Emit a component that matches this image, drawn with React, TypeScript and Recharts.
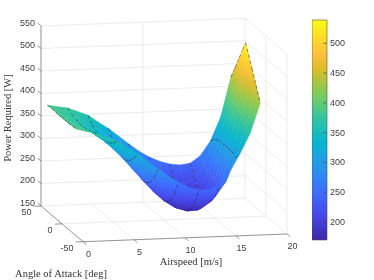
import { Bar, BarChart, Scatter, ScatterChart, XAxis, YAxis } from "recharts";

// surface samples: airspeed [m/s] by angle of attack [deg]
const airspeeds = [0, 2, 4, 5, 6, 7, 8, 9, 10, 11, 12, 13, 14, 15, 16, 17, 18];
const powerBack35 = [386, 378, 360, 344, 329, 311, 293, 276, 262, 252, 245, 242, 245, 261, 293, 345, 433];
const power25 = [387, 372, 346, 329, 310, 287, 265, 245, 228, 215, 208, 208, 219, 250, 304, 370, 462];
const power15 = [386, 368, 338, 319, 297, 272, 247, 225, 205, 191, 184, 185, 200, 241, 310, 386, 492];
const power7 = [386, 366, 334, 314, 292, 266, 240, 216, 196, 181, 174, 175, 194, 236, 309, 399, 516];
const power0 = [386, 365, 333, 313, 290, 264, 238, 213, 193, 178, 171, 174, 192, 235, 310, 405, 537];
const powerFront35 = [388, 376, 357, 342, 329, 310, 293, 276, 262, 249, 243, 243, 252, 280, 320, 364, 431];

const aoaRows = [35, 25, 15, 7, 0, -7, -15, -25, -35];
const powerRows = [powerBack35, power25, power15, power7, power0, power7, power15, power25, powerFront35];
const dashedAirspeeds = [0, 2, 4, 6, 8, 10, 12, 14, 16, 18];

const powerTicks = [150, 200, 250, 300, 350, 400, 450, 500, 550];
const airspeedTicks = [0, 5, 10, 15, 20];
const aoaTicks = [-50, 0, 50];
const colorbarTicks = [200, 250, 300, 350, 400, 450, 500];
const colorMin = 170;
const colorMax = 539;

// parula
const parula: [number, number[]][] = [
  [0, [62, 38, 168]],
  [7 / 63, [71, 71, 235]],
  [14 / 63, [62, 111, 255]],
  [21 / 63, [39, 150, 235]],
  [28 / 63, [8, 181, 208]],
  [35 / 63, [49, 198, 159]],
  [42 / 63, [129, 204, 89]],
  [49 / 63, [220, 189, 41]],
  [53 / 63, [254, 190, 60]],
  [56 / 63, [252, 207, 48]],
  [1, [249, 251, 21]],
];

const colorAt = (power: number) => {
  const t = Math.min(1, Math.max(0, (power - colorMin) / (colorMax - colorMin)));
  let i = 0;
  while (i < parula.length - 2 && t > parula[i + 1][0]) i++;
  const [t0, c0] = parula[i];
  const [t1, c1] = parula[i + 1];
  const f = (t - t0) / (t1 - t0);
  return `rgb(${c0.map((c, k) => Math.round(c + (c1[k] - c) * f)).join(",")})`;
};

// fixed 3D view of the axes box
const project = (v: number, a: number, p: number) => ({
  x: 62 + 10.2 * v - 0.42 * a,
  y: 223.85 - 0.385 * v - 0.357 * a - 0.45 * (p - 150),
});

const buildFacets = () => {
  const facets: any[] = [];
  // far to near so the front of the valley covers the back
  for (let r = 0; r < aoaRows.length - 1; r++) {
    for (let c = airspeeds.length - 2; c >= 0; c--) {
      const corners = [
        [airspeeds[c], aoaRows[r], powerRows[r][c]],
        [airspeeds[c + 1], aoaRows[r], powerRows[r][c + 1]],
        [airspeeds[c + 1], aoaRows[r + 1], powerRows[r + 1][c + 1]],
        [airspeeds[c], aoaRows[r + 1], powerRows[r + 1][c]],
      ];
      const pts = corners.map((k) => project(k[0], k[1], k[2]));
      facets.push({
        id: `f${r}-${c}`,
        x: pts[0].x,
        y: pts[0].y,
        offsets: pts.map((p) => [p.x - pts[0].x, p.y - pts[0].y]),
        powers: corners.map((k) => k[2]),
        dashRight: dashedAirspeeds.includes(airspeeds[c + 1]),
        dashLeft: c === 0,
      });
    }
  }
  return facets;
};

const Facet = (props: any) => {
  const { cx, cy, payload: f } = props;
  const pts = f.offsets.map((o: number[]) => [cx + o[0], cy + o[1]]);
  const z = f.powers;
  const d = pts.map((p: number[], i: number) => `${i ? "L" : "M"}${p[0]} ${p[1]}`).join(" ") + " Z";

  // colour follows height: gradient along the facet's height slope
  const ax = pts[2][0] - pts[0][0];
  const ay = pts[2][1] - pts[0][1];
  const bx = pts[3][0] - pts[1][0];
  const by = pts[3][1] - pts[1][1];
  const dz1 = z[2] - z[0];
  const dz2 = z[3] - z[1];
  const det = ax * by - ay * bx;
  const zMin = Math.min(...z);
  const zMax = Math.max(...z);
  const zMid = (z[0] + z[1] + z[2] + z[3]) / 4;
  let fill = colorAt(zMid);
  let defs = null;
  if (Math.abs(det) > 0.5 && zMax - zMin > 1) {
    const gx = (dz1 * by - dz2 * ay) / det;
    const gy = (ax * dz2 - bx * dz1) / det;
    const g2 = gx * gx + gy * gy;
    const mx = (pts[0][0] + pts[1][0] + pts[2][0] + pts[3][0]) / 4;
    const my = (pts[0][1] + pts[1][1] + pts[2][1] + pts[3][1]) / 4;
    const at = (v: number) => [mx + ((v - zMid) * gx) / g2, my + ((v - zMid) * gy) / g2];
    const p0 = at(zMin);
    const p1 = at(zMax);
    defs = (
      <defs>
        <linearGradient id={f.id} gradientUnits="userSpaceOnUse" x1={p0[0]} y1={p0[1]} x2={p1[0]} y2={p1[1]}>
          {[0, 0.25, 0.5, 0.75, 1].map((s) => (
            <stop key={s} offset={s} stopColor={colorAt(zMin + (zMax - zMin) * s)} />
          ))}
        </linearGradient>
      </defs>
    );
    fill = `url(#${f.id})`;
  }
  const dash = { stroke: "#222222", strokeWidth: 0.5, strokeDasharray: "3.5 2.5", fill: "none" };
  return (
    <g>
      {defs}
      <path d={d} fill={fill} stroke={fill} strokeWidth={0.5} />
      {f.dashRight && <line x1={pts[1][0]} y1={pts[1][1]} x2={pts[2][0]} y2={pts[2][1]} {...dash} />}
      {f.dashLeft && <line x1={pts[0][0]} y1={pts[0][1]} x2={pts[3][0]} y2={pts[3][1]} {...dash} />}
    </g>
  );
};

const segment = (from: number[], to: number[], color: string) => {
  const p = project(from[0], from[1], from[2]);
  const q = project(to[0], to[1], to[2]);
  return { x: p.x, y: p.y, dx: q.x - p.x, dy: q.y - p.y, color };
};

const gridColor = "#e4e4e4";
const axisColor = "#666666";

const gridSegments = [
  ...powerTicks.flatMap((p) => [
    segment([0, 50, p], [20, 50, p], gridColor),
    segment([20, 50, p], [20, -50, p], gridColor),
  ]),
  ...[5, 10, 15].map((v) => segment([v, 50, 150], [v, -50, 150], gridColor)),
  segment([0, 0, 150], [20, 0, 150], gridColor),
  segment([10, 50, 150], [10, 50, 550], gridColor),
  segment([20, 50, 150], [20, 50, 550], gridColor),
  segment([20, 0, 150], [20, 0, 550], gridColor),
  segment([20, -50, 150], [20, -50, 550], gridColor),
];

const axisSegments = [
  segment([0, 50, 150], [0, 50, 550], axisColor),
  segment([0, 50, 150], [0, -50, 150], axisColor),
  segment([0, -50, 150], [20, -50, 150], axisColor),
  ...powerTicks.map((p) => segment([0, 50, p], [0, 58, p], axisColor)),
  ...aoaTicks.map((a) => segment([0, a, 150], [-0.7, a, 150], axisColor)),
  ...airspeedTicks.map((v) => segment([v, -50, 150], [v, -58, 150], axisColor)),
];

const Segment = (props: any) => {
  const { cx, cy, payload: s } = props;
  return <line x1={cx} y1={cy} x2={cx + s.dx} y2={cy + s.dy} stroke={s.color} strokeWidth={0.7} />;
};

const tickFont = "'Liberation Sans', Arial, sans-serif";
const titleFont = "'Liberation Serif', serif";

const labels = [
  ...powerTicks.map((p) => {
    const t = project(0, 50, p);
    return { x: t.x - 6, y: t.y - 0.5, text: String(p), anchor: "end" };
  }),
  ...aoaTicks.map((a) => {
    const t = project(0, a, 150);
    return { x: t.x - 9.5, y: t.y + 9, text: String(a), anchor: "end" };
  }),
  ...airspeedTicks.map((v) => {
    const t = project(v, -50, 150);
    return { x: t.x + 5.5, y: t.y + 15, text: String(v), anchor: "middle" };
  }),
];

const titles = [
  { x: 11, y: 118, text: "Power Required [W]", rotate: -90 },
  { x: 191, y: 265, text: "Airspeed [m/s]", rotate: 0 },
  { x: 61, y: 277, text: "Angle of Attack [deg]", rotate: 0 },
];

const TickLabel = (props: any) => {
  const { cx, cy, payload: l } = props;
  return (
    <text x={cx} y={cy} textAnchor={l.anchor} fontFamily={tickFont} fontSize={9} fill="#404040">
      {l.text}
    </text>
  );
};

const TitleLabel = (props: any) => {
  const { cx, cy, payload: l } = props;
  return (
    <text
      x={cx}
      y={cy}
      textAnchor="middle"
      fontFamily={titleFont}
      fontSize={10.5}
      fill="#333333"
      transform={l.rotate ? `rotate(${l.rotate} ${cx} ${cy})` : undefined}
    >
      {l.text}
    </text>
  );
};

const ColorbarTick = (props: any) => {
  const { y, payload } = props;
  return (
    <g>
      <line x1={11.5} x2={14.5} y1={y} y2={y} stroke="#404040" strokeWidth={0.7} />
      <text x={18} y={y + 3} fontFamily={tickFont} fontSize={9} fill="#404040">
        {payload.value}
      </text>
    </g>
  );
};

const colorbarData = [{ name: "power", range: [colorMin, colorMax] }];

export default function App() {
  const facets = buildFacets();
  return (
    <div style={{ position: "absolute", left: 0, top: 0, width: 374, height: 280, background: "#fff", filter: "blur(0.3px)" }}>
      <ScatterChart width={374} height={280} margin={{ top: 0, right: 0, bottom: 0, left: 0 }}>
        <XAxis type="number" dataKey="x" domain={[0, 374]} hide />
        <YAxis type="number" dataKey="y" domain={[0, 280]} reversed hide />
        <Scatter data={gridSegments} shape={Segment} isAnimationActive={false} />
        <Scatter data={axisSegments} shape={Segment} isAnimationActive={false} />
        <Scatter data={facets} shape={Facet} isAnimationActive={false} />
        <Scatter data={labels} shape={TickLabel} isAnimationActive={false} />
        <Scatter data={titles} shape={TitleLabel} isAnimationActive={false} />
      </ScatterChart>
      <div style={{ position: "absolute", left: 312, top: 0 }}>
        <BarChart
          width={62}
          height={280}
          data={colorbarData}
          barCategoryGap={0}
          margin={{ top: 20, right: 0, bottom: 40, left: 0 }}
        >
          <defs>
            <linearGradient id="parulaBar" x1="0" y1="1" x2="0" y2="0">
              {parula.map(([t, c]) => (
                <stop key={t} offset={t} stopColor={`rgb(${c.join(",")})`} />
              ))}
            </linearGradient>
          </defs>
          <XAxis dataKey="name" hide />
          <YAxis
            orientation="right"
            type="number"
            domain={[colorMin, colorMax]}
            ticks={colorbarTicks}
            tick={ColorbarTick}
            axisLine={false}
            tickLine={false}
            width={47.5}
          />
          <Bar dataKey="range" fill="url(#parulaBar)" stroke="#505050" strokeWidth={0.6} isAnimationActive={false} />
        </BarChart>
      </div>
    </div>
  );
}
